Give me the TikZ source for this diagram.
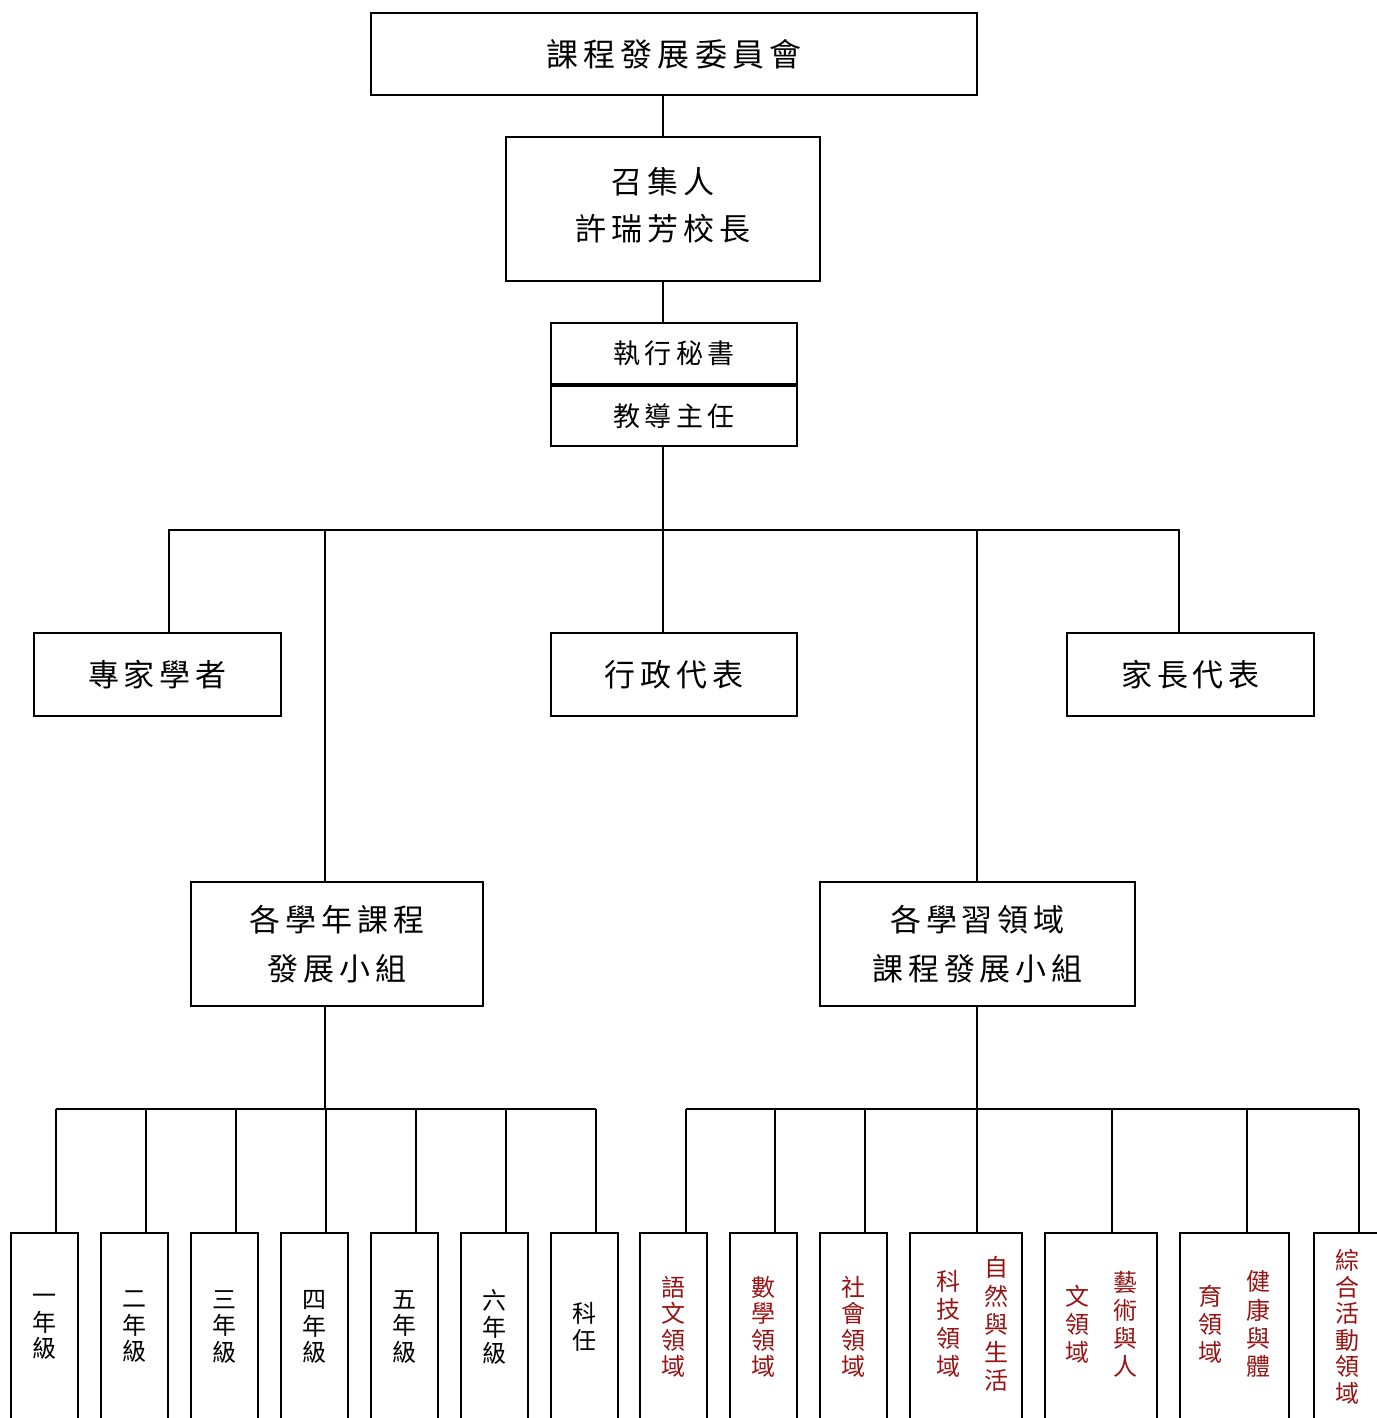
\documentclass[tikz,border=0pt]{standalone}
\usepackage{fontspec}
\newfontfamily\cjk[LetterSpace=16]{Noto Sans CJK TC}
\newfontfamily\cjkv{Noto Sans CJK TC}
\definecolor{areared}{RGB}{150,20,20}
\newcommand{\vcol}[1]{\begin{tabular}{@{}c@{}}#1\end{tabular}}
\begin{document}
\begin{tikzpicture}[x=1pt,y=-1pt,
	box/.style={draw,line width=1.5pt,inner sep=0pt,align=center,font=\cjk\fontsize{31}{47}\selectfont},
	col/.style={draw,line width=1.5pt,inner sep=0pt,align=center,minimum height=188pt,font=\cjkv\fontsize{24}{26.5}\selectfont},
	link/.style={line width=1.5pt}]
	\useasboundingbox (0,0) rectangle (1376,1418);
	% top of the chart
	\node[box,minimum width=606pt,minimum height=82pt,font=\cjk\fontsize{32}{40}\selectfont] (top) at (674,54) {課程發展委員會};
	\node[box,minimum width=314pt,minimum height=144pt] (conv) at (663,209) {召集人\\許瑞芳校長\\[-37pt]};
	\node[box,minimum width=246pt,minimum height=61pt,font=\cjk\fontsize{27}{30}\selectfont] (sec) at (674,353.5) {執行秘書};
	\node[box,minimum width=246pt,minimum height=60pt,font=\cjk\fontsize{27}{30}\selectfont] (dir) at (674,416) {教導主任};
	\node[box,minimum width=247pt,minimum height=83pt] (expert) at (157.5,674.5) {專家學者};
	\node[box,minimum width=246pt,minimum height=83pt] (admin) at (674,674.5) {行政代表};
	\node[box,minimum width=247pt,minimum height=83pt] (parent) at (1190.5,674.5) {家長代表};
	\node[box,minimum width=292pt,minimum height=124pt,font=\cjk\fontsize{31}{49}\selectfont] (grade) at (337,944) {各學年課程\\發展小組};
	\node[box,minimum width=315pt,minimum height=124pt,font=\cjk\fontsize{31}{49}\selectfont] (area) at (977.5,944) {各學習領域\\課程發展小組};
	
	\coordinate (hub) at (663,530);
	\coordinate (bl) at (169,530);
	\coordinate (yl) at (325,530);
	\coordinate (al) at (977,530);
	\coordinate (br) at (1179,530);
	\coordinate (gb) at (325,1109);
	\coordinate (ab) at (977,1109);
	
	\draw[link] (conv.north) -- (conv.north |- top.south);
	\draw[link] (conv.south) -- (conv.south |- sec.north);
	\draw[link] (hub |- dir.south) -- (hub |- admin.north);
	\draw[link] (bl |- expert.north) -- (bl) -- (br) -- (br |- parent.north);
	\draw[link] (yl) -- (yl |- grade.north);
	\draw[link] (al) -- (al |- area.north);
	\draw[link] (gb |- grade.south) -- (gb);
	\draw[link] (ab |- area.south) -- (ab);
	
	% grades
	\foreach \t [count=\n] in {一\\年\\級,二\\年\\級,三\\年\\級,四\\年\\級,五\\年\\級,六\\年\\級,科\\任}
		{
		\node[col,minimum width=67pt] (G\n) at ({44.5+90*(\n-1)},1327) {\t};
		\coordinate (g\n) at ({56+90*(\n-1)},1109);
		\draw[link] (g\n) -- (g\n |- G\n.north);
		}
	\draw[link] (g1) -- (g7);
	
	% learning areas
	\foreach \cx/\dx/\w/\t [count=\n] in {
		673.5/686/67/{語\\文\\領\\域},
		763.5/775/67/{數\\學\\領\\域},
		853.5/865/67/{社\\會\\領\\域},
		966/977/112/{\hspace*{12pt}\vcol{科\\技\\領\\域}\hspace{24pt}\vcol{自\\然\\與\\生\\活}},
		1101/1112/112/{\vcol{文\\領\\域}\hspace{24pt}\vcol{藝\\術\\與\\人}},
		1234.5/1247/109/{\vcol{育\\領\\域}\hspace{24pt}\vcol{健\\康\\與\\體}},
		1347.5/1359/67/{綜\\合\\活\\動\\領\\域}}
		{
		\node[col,minimum width=\w pt,text=areared] (A\n) at (\cx,1327) {\t};
		\coordinate (a\n) at (\dx,1109);
		\draw[link] (a\n) -- (a\n |- A\n.north);
		}
	\draw[link] (a1) -- (a7);
\end{tikzpicture}
\end{document}
